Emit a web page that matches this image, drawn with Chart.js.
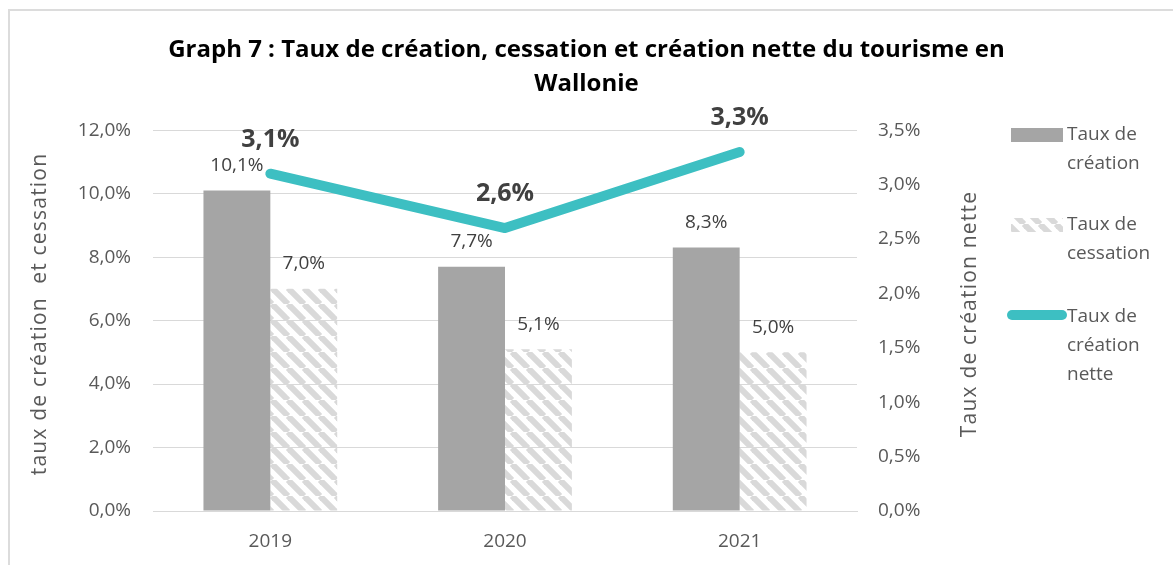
<!DOCTYPE html>
<html>
<head>
<meta charset="utf-8">
<script src="https://cdn.jsdelivr.net/npm/chart.js@4"></script>
<style>
  html, body { margin: 0; padding: 0; background: #fff; overflow: hidden; }
  #wrap { position: relative; width: 1173px; height: 565px; }
  #frame { position: absolute; left: 8px; top: 9px; width: 2000px; height: 2000px; border: 2px solid #dcdcdc; box-sizing: border-box; }
  canvas { position: absolute; left: 0; top: 0; }
</style>
</head>
<body>
<div id="wrap">
  <div id="frame"></div>
  <canvas id="c" width="1173" height="565"></canvas>
</div>
<script>
/* Graph 7 : taux de création / cessation / création nette - tourisme Wallonie */
const annees = ['2019', '2020', '2021'];
const tauxCreation = [10.1, 7.7, 8.3];
const tauxCessation = [7.0, 5.1, 5.0];
const tauxCreationNette = [3.1, 2.6, 3.3];
const titre = ['Graph 7 : Taux de création, cessation et création nette du tourisme en', 'Wallonie'];
const titreAxeGauche = 'taux de création  et cessation';
const titreAxeDroit = 'Taux de création nette';
const legendeLignes = [['Taux de', 'création'], ['Taux de', 'cessation'], ['Taux de', 'création', 'nette']];

const FONT = '"Open Sans", sans-serif';
const TXT = '#595959';
const GRID = '#d9d9d9';
const GRIS = '#a5a5a5';
const TURQ = '#3dbfc2';

const pct = (v) => v.toFixed(1).replace('.', ',') + '%';

function hachures() {
  const t = document.createElement('canvas');
  t.width = 16; t.height = 16;
  const g = t.getContext('2d');
  g.strokeStyle = '#d9d9d9';
  g.lineWidth = 6;
  [-16, 0, 16].forEach((a) => { g.beginPath(); g.moveTo(a, 0); g.lineTo(a + 16, 16); g.stroke(); });
  return g.createPattern(t, 'repeat');
}
const HATCH = hachures();

// étiquettes de données + titres d'axes + légende
const extras = {
  id: 'extras',
  afterDatasetsDraw(chart) {
    const ctx = chart.ctx;
    ctx.save();
    ctx.textAlign = 'center';
    ctx.textBaseline = 'middle';
    chart.data.datasets.forEach((ds, i) => {
      const meta = chart.getDatasetMeta(i);
      meta.data.forEach((el, j) => {
        if (ds.type === 'line') {
          ctx.font = 'bold 25px ' + FONT;
          ctx.fillStyle = '#404040';
          ctx.fillText(pct(ds.data[j]), el.x, el.y - 34);
        } else {
          ctx.font = '19px ' + FONT;
          ctx.fillStyle = '#404040';
          ctx.fillText(pct(ds.data[j]), el.x, el.y - 25);
        }
      });
    });
    ctx.restore();
  },
  afterDraw(chart) {
    const ctx = chart.ctx;
    // titres d'axes (lus de bas en haut)
    [[40, titreAxeGauche], [970, titreAxeDroit]].forEach(([x, txt]) => {
      ctx.save();
      ctx.translate(x, 314);
      ctx.rotate(-Math.PI / 2);
      ctx.font = '21px ' + FONT;
      ctx.letterSpacing = '1.2px';
      ctx.fillStyle = TXT;
      ctx.textAlign = 'center';
      ctx.textBaseline = 'middle';
      ctx.fillText(txt, 0, 0);
      ctx.restore();
    });

    // légende
    ctx.save();
    ctx.font = '19px ' + FONT;
    ctx.fillStyle = TXT;
    ctx.textBaseline = 'middle';
    const tops = [135, 225, 317];
    const lh = 29;
    tops.forEach((y, i) => {
      if (i === 0) { ctx.fillStyle = GRIS; ctx.fillRect(1011, y - 7, 52, 14); }
      if (i === 1) { ctx.fillStyle = HATCH; ctx.fillRect(1011, y - 7, 52, 14); }
      if (i === 2) {
        ctx.strokeStyle = TURQ; ctx.lineWidth = 10; ctx.lineCap = 'round';
        ctx.beginPath(); ctx.moveTo(1012, y - 2); ctx.lineTo(1062, y - 2); ctx.stroke();
      }
      ctx.fillStyle = TXT;
      legendeLignes[i].forEach((l, k) => ctx.fillText(l, 1067, y + k * lh));
    });
    ctx.restore();
  },
};

new Chart(document.getElementById('c'), {
  data: {
    labels: annees,
    datasets: [
      { type: 'line', label: 'Taux de création nette', data: tauxCreationNette, yAxisID: 'y1',
        borderColor: TURQ, borderWidth: 10, borderCapStyle: 'round', borderJoinStyle: 'round',
        pointRadius: 0, tension: 0, order: 0 },
      { type: 'bar', label: 'Taux de création', data: tauxCreation, yAxisID: 'y',
        backgroundColor: GRIS, borderWidth: 0, order: 1 },
      { type: 'bar', label: 'Taux de cessation', data: tauxCessation, yAxisID: 'y',
        backgroundColor: HATCH, borderWidth: 0, order: 2 },
    ],
  },
  options: {
    responsive: false,
    animation: false,
    events: [],
    datasets: { bar: { barPercentage: 1, categoryPercentage: 0.57 } },
    layout: { padding: { left: 0, right: 0, top: 0, bottom: 0 } },
    plugins: {
      legend: { display: false },
      tooltip: { enabled: false },
      title: {
        display: true, text: titre, color: '#000',
        font: { family: FONT, size: 24, weight: 'bold', lineHeight: 1.42 },
        padding: { top: 33, bottom: 29 },
      },
    },
    scales: {
      x: {
        grid: { display: false, drawTicks: false },
        border: { display: true, color: GRID, width: 1 },
        ticks: { color: TXT, font: { family: FONT, size: 19 }, padding: 19 },
        afterFit: (s) => { s.height = 54; },
      },
      y: {
        position: 'left', min: 0, max: 12,
        grid: { color: GRID, drawTicks: false },
        border: { display: false },
        ticks: { stepSize: 2, color: TXT, font: { family: FONT, size: 19 }, padding: 22, callback: (v) => pct(v) },
        afterFit: (s) => { s.width = 153; },
      },
      y1: {
        position: 'right', min: 0, max: 3.5,
        grid: { display: false, drawTicks: false },
        border: { display: false },
        ticks: { stepSize: 0.5, color: TXT, font: { family: FONT, size: 19 }, padding: 21, callback: (v) => pct(v) },
        afterFit: (s) => { s.width = 316; },
      },
    },
  },
  plugins: [extras],
});
</script>
</body>
</html>
